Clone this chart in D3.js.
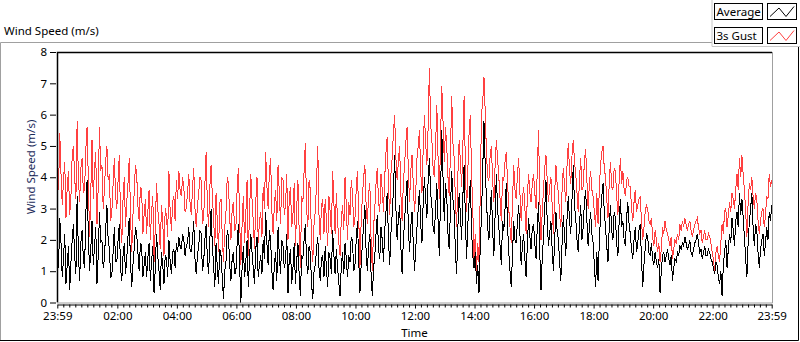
<!DOCTYPE html>
<html>
<head>
<meta charset="utf-8">
<script src="https://cdn.jsdelivr.net/npm/d3@7"></script>
<style>
  body { margin: 0; background: #fff; }
  svg { display: block; font-family: "Noto Sans", "Open Sans", sans-serif; }
</style>
</head>
<body>
<div id="chart"></div>
<script>
// ---- data (2.5 minute steps from 23:59 to 23:59) ----
const seriesNames = ["Average", "3s Gust"];
const seriesColors = ["#000000", "#ff4040"];
const yTicks = [0, 1, 2, 3, 4, 5, 6, 7, 8];
const tickLabels = ["23:59", "02:00", "04:00", "06:00", "08:00", "10:00", "12:00",
                    "14:00", "16:00", "18:00", "20:00", "22:00", "23:59"];
const stepMinutes = 2.5;

// one row per hour (24 samples)
const avgSpeed = [
  1.6, 1.1, 2.7, 1.9, 0.8, 1.4, 2.2, 0.6, 1.2, 1.8, 0.4, 1.3, 2.0, 2.5, 1.5, 0.9, 3.4, 1.6, 0.7, 1.9, 2.3, 1.4, 1.1, 2.8,
  3.9, 2.2, 1.0, 1.7, 2.6, 1.2, 1.8, 2.4, 0.6, 1.5, 2.9, 1.9, 2.0, 1.1, 1.4, 2.3, 3.1, 2.0, 1.7, 0.8, 0.9, 1.6, 2.4, 1.3,
  1.3, 2.0, 2.5, 1.1, 0.7, 1.5, 1.9, 0.9, 1.4, 2.1, 2.7, 1.3, 0.5, 1.2, 1.7, 2.4, 2.2, 1.6, 1.0, 1.9, 1.8, 0.8, 1.2, 1.6,
  0.8, 1.4, 1.9, 0.7, 1.3, 1.8, 0.3, 1.1, 2.2, 1.5, 1.0, 0.4, 1.6, 1.2, 0.6, 1.5, 1.4, 0.8, 2.0, 1.3, 0.9, 1.6, 1.7, 1.1,
  1.9, 1.6, 2.1, 1.8, 1.7, 2.2, 2.0, 1.5, 1.8, 1.9, 2.4, 1.7, 1.6, 2.0, 2.6, 1.4, 0.9, 1.5, 1.8, 2.3, 2.2, 1.0, 1.3, 2.0,
  2.5, 1.4, 0.9, 2.0, 3.0, 1.8, 1.2, 0.5, 1.9, 1.1, 0.6, 1.7, 1.5, 0.8, 0.1, 1.0, 1.3, 2.3, 2.1, 1.2, 0.7, 1.4, 1.6, 0.9,
  1.0, 1.9, 2.5, 1.2, 0.0, 1.1, 1.8, 0.8, 1.3, 2.0, 0.5, 1.4, 2.2, 1.6, 1.1, 0.6, 1.7, 2.1, 0.8, 1.2, 1.5, 0.9, 2.0, 1.4,
  2.9, 1.9, 1.2, 2.3, 2.0, 1.0, 0.4, 1.2, 1.6, 0.7, 2.4, 1.5, 0.9, 2.0, 1.8, 1.1, 1.3, 2.2, 0.3, 1.4, 1.7, 0.6, 1.1, 1.9,
  0.6, 1.3, 1.9, 0.9, 0.2, 1.5, 1.4, 2.0, 2.5, 1.3, 0.9, 1.8, 1.6, 0.6, 0.1, 1.0, 1.2, 1.7, 2.1, 1.1, 0.7, 1.4, 1.5, 0.8,
  1.8, 1.1, 0.5, 1.6, 1.4, 0.9, 2.3, 1.5, 0.9, 1.7, 1.1, 0.6, 0.2, 1.2, 1.6, 0.9, 1.9, 1.4, 0.8, 1.5, 1.3, 2.1, 2.0, 1.0,
  1.2, 2.0, 2.6, 1.4, 0.3, 1.2, 1.9, 2.5, 3.1, 1.6, 1.0, 1.8, 2.2, 0.9, 0.2, 1.1, 1.5, 2.2, 2.8, 1.7, 1.4, 2.4, 2.0, 1.3,
  2.3, 2.9, 3.5, 2.0, 1.2, 2.2, 2.8, 3.6, 4.7, 3.0, 2.0, 2.7, 3.1, 1.8, 0.9, 2.0, 2.6, 3.3, 3.9, 2.5, 1.6, 2.4, 2.9, 1.9,
  1.0, 1.7, 2.4, 3.0, 3.6, 2.5, 1.9, 3.2, 4.0, 3.3, 2.7, 3.9, 4.6, 3.5, 3.1, 2.4, 2.2, 3.0, 3.8, 2.6, 1.5, 3.4, 5.5, 4.0,
  2.6, 3.8, 3.4, 2.2, 1.7, 3.0, 4.2, 3.3, 2.9, 1.6, 0.9, 2.4, 3.5, 2.8, 2.0, 3.4, 4.4, 2.7, 1.4, 2.5, 3.2, 3.9, 2.3, 1.5,
  1.1, 1.6, 0.6, 1.2, 0.3, 1.8, 2.8, 4.2, 5.8, 4.4, 3.3, 2.4, 2.0, 2.9, 3.6, 2.3, 1.5, 2.8, 4.1, 3.0, 2.4, 1.8, 1.2, 2.6,
  2.3, 3.0, 3.8, 2.5, 1.6, 1.0, 0.5, 1.5, 2.6, 2.0, 1.9, 2.6, 3.1, 2.2, 1.2, 1.8, 2.2, 1.4, 0.8, 1.9, 2.7, 2.1, 1.7, 2.4,
  2.5, 1.9, 1.4, 2.4, 3.2, 1.6, 0.4, 1.4, 2.1, 3.0, 3.9, 2.6, 1.8, 2.2, 2.6, 1.7, 1.0, 2.0, 2.9, 2.3, 2.0, 1.3, 0.7, 1.9,
  2.8, 2.1, 1.5, 2.7, 3.4, 2.6, 2.2, 3.3, 4.4, 3.1, 2.7, 2.0, 1.6, 2.5, 3.1, 2.0, 2.4, 3.2, 3.6, 2.6, 1.8, 2.4, 2.9, 2.2,
  1.9, 1.2, 0.5, 1.6, 0.7, 1.9, 2.8, 3.4, 3.8, 2.9, 2.4, 1.8, 1.3, 2.4, 3.1, 2.3, 2.0, 2.9, 2.7, 1.9, 1.5, 2.6, 3.3, 2.4,
  2.6, 2.0, 1.8, 2.7, 3.2, 2.5, 2.2, 1.7, 1.4, 2.0, 2.4, 1.6, 1.9, 2.3, 2.5, 1.4, 0.5, 1.2, 1.7, 2.2, 2.1, 1.6, 1.5, 1.9,
  1.4, 1.2, 1.6, 1.3, 1.1, 1.4, 0.3, 1.0, 1.5, 1.6, 1.3, 1.5, 1.7, 1.4, 1.2, 1.5, 0.7, 1.1, 1.4, 1.3, 1.6, 1.5, 1.8, 1.7,
  1.9, 1.8, 2.1, 1.9, 1.7, 1.8, 2.0, 1.6, 1.5, 1.7, 1.9, 2.0, 2.2, 1.9, 1.6, 1.7, 1.4, 1.6, 1.8, 1.5, 1.5, 1.7, 1.6, 1.4,
  1.3, 1.1, 0.9, 1.3, 1.2, 0.8, 0.6, 1.0, 0.2, 1.2, 1.6, 2.0, 1.1, 1.7, 2.2, 1.9, 2.7, 2.3, 1.8, 2.6, 2.9, 2.4, 3.5, 2.8,
  3.3, 2.7, 2.1, 1.4, 0.8, 1.9, 2.6, 3.0, 3.5, 2.4, 1.8, 2.5, 2.3, 1.6, 1.1, 1.7, 2.0, 2.2, 1.5, 1.9, 2.4, 2.0, 2.9, 2.6,
  3.1
];

const gustSpeed = [
  4.4, 3.6, 5.4, 4.1, 3.1, 3.9, 4.5, 2.7, 3.7, 4.2, 2.8, 3.4, 4.7, 5.0, 4.0, 3.3, 5.8, 4.0, 3.2, 4.3, 4.6, 3.5, 3.6, 4.9,
  5.6, 4.0, 2.1, 3.5, 5.2, 3.3, 4.3, 4.8, 2.5, 3.7, 5.6, 4.2, 4.4, 3.0, 3.6, 4.5, 5.0, 3.9, 4.1, 2.6, 2.9, 3.8, 4.6, 3.4,
  3.0, 3.9, 4.7, 2.6, 1.9, 3.3, 4.0, 2.4, 3.2, 3.8, 4.6, 2.9, 1.6, 2.8, 3.5, 4.4, 4.1, 3.1, 2.6, 3.7, 3.6, 2.2, 2.8, 3.3,
  2.2, 2.9, 3.6, 2.0, 2.9, 3.4, 1.3, 2.4, 3.8, 3.0, 2.5, 1.7, 3.1, 2.6, 1.5, 3.0, 2.8, 2.1, 4.2, 2.9, 2.3, 3.2, 3.4, 2.6,
  3.9, 3.3, 4.2, 3.6, 3.4, 4.0, 3.7, 2.9, 3.0, 3.5, 4.1, 3.2, 2.8, 3.6, 4.3, 3.0, 2.4, 3.1, 3.5, 4.0, 3.9, 2.5, 2.7, 3.8,
  4.8, 3.1, 2.4, 3.7, 4.4, 3.4, 2.7, 1.8, 3.5, 2.6, 1.6, 3.2, 3.3, 2.1, 1.3, 2.4, 2.9, 4.0, 3.8, 2.7, 2.0, 3.0, 3.2, 2.3,
  2.4, 3.6, 4.3, 2.7, 1.2, 2.5, 3.4, 1.9, 2.8, 3.9, 1.5, 2.9, 4.1, 3.3, 2.6, 1.7, 3.2, 4.0, 1.9, 2.6, 2.9, 2.1, 3.7, 3.0,
  4.8, 3.7, 3.0, 4.2, 4.6, 2.9, 2.2, 3.1, 3.6, 2.6, 4.4, 3.5, 2.5, 4.0, 3.9, 2.8, 3.1, 4.1, 2.0, 3.3, 3.7, 2.4, 2.8, 3.8,
  1.8, 3.0, 3.9, 2.3, 1.1, 3.4, 3.2, 4.2, 5.1, 3.0, 2.4, 3.9, 3.6, 1.9, 1.3, 2.5, 2.9, 3.8, 5.0, 2.8, 2.0, 3.1, 3.3, 2.2,
  3.3, 2.6, 1.8, 3.4, 2.9, 2.2, 4.2, 3.2, 2.2, 3.5, 2.6, 1.9, 1.5, 2.7, 3.1, 2.3, 4.0, 3.1, 2.0, 3.2, 2.8, 3.9, 3.5, 2.4,
  2.7, 3.6, 4.2, 2.8, 1.1, 2.6, 3.4, 4.0, 4.4, 3.1, 2.5, 3.5, 3.8, 2.0, 1.0, 2.4, 3.0, 3.8, 4.3, 3.2, 2.9, 4.1, 3.6, 2.9,
  4.0, 4.8, 5.3, 3.7, 2.8, 4.1, 4.6, 5.4, 6.0, 4.6, 3.9, 4.5, 5.0, 3.5, 2.6, 3.8, 4.4, 5.1, 5.6, 4.3, 3.2, 4.2, 4.7, 3.8,
  2.9, 3.5, 4.6, 5.0, 5.5, 4.2, 3.5, 4.9, 6.0, 5.1, 4.4, 5.6, 7.5, 5.7, 5.2, 4.3, 4.0, 5.0, 6.3, 4.6, 3.3, 5.2, 6.9, 5.8,
  4.5, 5.6, 5.0, 4.0, 3.4, 4.8, 6.6, 5.1, 4.6, 3.2, 2.4, 4.1, 5.2, 4.5, 3.7, 5.0, 6.6, 4.4, 2.9, 4.2, 5.4, 6.0, 4.1, 3.0,
  1.4, 2.2, 1.0, 1.9, 1.3, 3.5, 6.0, 6.4, 7.2, 6.1, 4.8, 4.0, 3.9, 4.7, 5.0, 3.9, 3.2, 4.4, 5.2, 4.6, 4.0, 3.3, 2.6, 4.0,
  3.9, 4.5, 4.8, 3.9, 3.0, 2.4, 1.9, 3.2, 4.4, 3.6, 3.3, 4.1, 4.6, 3.5, 2.6, 3.3, 3.7, 3.0, 2.2, 3.4, 4.1, 3.5, 3.2, 3.8,
  4.1, 3.5, 3.0, 4.2, 5.5, 3.4, 2.0, 2.9, 3.6, 4.3, 4.7, 3.9, 3.2, 3.7, 4.0, 3.1, 2.2, 3.5, 4.4, 3.8, 3.5, 2.8, 2.4, 3.6,
  4.3, 3.7, 3.2, 4.4, 5.1, 4.2, 3.8, 4.7, 5.2, 4.5, 4.1, 3.5, 2.9, 3.9, 4.6, 3.6, 3.7, 4.5, 4.9, 3.9, 3.0, 3.8, 4.2, 3.6,
  3.4, 2.9, 2.4, 3.5, 2.5, 3.6, 4.4, 4.8, 5.0, 4.3, 4.0, 3.3, 2.7, 3.8, 4.5, 3.7, 3.6, 4.3, 4.2, 3.4, 2.8, 3.9, 4.6, 3.8,
  4.2, 3.6, 3.4, 3.9, 4.0, 3.7, 3.7, 3.0, 2.6, 3.2, 3.6, 2.9, 3.1, 3.3, 3.4, 2.6, 2.0, 2.4, 2.9, 3.1, 3.0, 2.6, 2.5, 2.7,
  2.1, 1.8, 2.3, 2.0, 1.6, 1.9, 1.3, 1.7, 2.4, 2.2, 2.6, 2.3, 2.2, 2.0, 1.8, 2.1, 1.4, 1.7, 2.0, 1.9, 2.2, 2.0, 2.5, 2.3,
  2.6, 2.4, 2.7, 2.5, 2.3, 2.5, 2.6, 2.3, 2.1, 2.3, 2.5, 2.6, 2.7, 2.4, 2.2, 2.3, 1.9, 2.1, 2.3, 2.0, 2.0, 2.2, 2.1, 1.9,
  1.6, 1.4, 1.0, 1.6, 1.8, 1.5, 1.3, 1.9, 2.5, 2.2, 2.9, 3.0, 2.4, 2.8, 3.2, 2.9, 3.5, 3.3, 3.0, 3.6, 4.1, 3.6, 4.6, 4.0,
  4.7, 4.1, 3.6, 2.9, 2.1, 3.2, 3.8, 3.6, 4.0, 3.4, 3.0, 3.5, 3.3, 2.6, 2.2, 2.6, 2.9, 3.0, 2.4, 2.8, 3.4, 3.3, 4.1, 3.7,
  3.9
];

if (avgSpeed.length !== 577 || gustSpeed.length !== 577) {
  throw new Error("series length " + avgSpeed.length + " / " + gustSpeed.length);
}

// ---- layout ----
const W = 800, H = 342;
const plot = { left: 57, right: 772, top: 52, bottom: 302.5 };

const startTime = new Date(2000, 0, 1, 23, 59);
const endTime = new Date(2000, 0, 2, 23, 59);
const timeAt = i => new Date(startTime.getTime() + i * stepMinutes * 60000);

// major tick times: start, every 2 hours, end
const majorTimes = [startTime];
for (let h = 2; h <= 22; h += 2) majorTimes.push(new Date(2000, 0, 2, h, 0));
majorTimes.push(endTime);

const x = d3.scaleTime()
    .domain([startTime, endTime])
    .range([plot.left + 0.3, plot.right - 0.3]);

const y = d3.scaleLinear()
    .domain([0, 8])
    .range([plot.bottom, plot.top]);

const svg = d3.select("#chart")
  .append("svg")
    .attr("width", W)
    .attr("height", H);

// outer frame of the graph
svg.append("path")
    .attr("d", "M0.5,341 V42.5 H712")
    .attr("fill", "none")
    .attr("stroke", "#a0a0a0");
svg.append("path")
    .attr("d", "M0,340.5 H798.5 V47")
    .attr("fill", "none")
    .attr("stroke", "#000");

// title
svg.append("text")
    .attr("x", 4)
    .attr("y", 35)
    .style("font-size", "11.5px")
    .attr("fill", "#000")
    .text("Wind Speed (m/s)");

// plot background + clip
svg.append("rect")
    .attr("x", plot.left)
    .attr("y", plot.top)
    .attr("width", plot.right - plot.left)
    .attr("height", plot.bottom - plot.top)
    .attr("fill", "#fff");

svg.append("clipPath")
    .attr("id", "clip")
  .append("rect")
    .attr("x", plot.left)
    .attr("y", plot.top)
    .attr("width", plot.right - plot.left)
    .attr("height", plot.bottom - plot.top + 1);

const line = d3.line()
    .x((d, i) => x(timeAt(i)))
    .y(d => y(d));

// gust first, average on top; aliased like the original plot
const dataG = svg.append("g")
    .attr("clip-path", "url(#clip)")
    .attr("shape-rendering", "crispEdges");
dataG.append("path")
    .datum(gustSpeed)
    .attr("d", line)
    .attr("fill", "none")
    .attr("stroke", seriesColors[1])
    .attr("stroke-width", 1);
dataG.append("path")
    .datum(avgSpeed)
    .attr("d", line)
    .attr("fill", "none")
    .attr("stroke", seriesColors[0])
    .attr("stroke-width", 1);

// sunken plot border: dark top/left, grey bottom/right
svg.append("path")
    .attr("d", `M${plot.left + 0.5},${plot.bottom} V${plot.top + 0.5} H${plot.right}`)
    .attr("fill", "none")
    .attr("stroke", "#000")
    .attr("stroke-width", 1.5);
svg.append("path")
    .attr("d", `M${plot.left},${plot.bottom + 0.5} H${plot.right + 0.5} V${plot.top}`)
    .attr("fill", "none")
    .attr("stroke", "#a0a0a0");

// ---- y axis ----
const yAxis = svg.append("g")
    .attr("transform", `translate(${plot.left - 1},0)`)
    .call(d3.axisLeft(y).tickValues(yTicks).tickSize(6).tickPadding(3).tickFormat(d3.format("d")));
yAxis.select(".domain").remove();
yAxis.selectAll("text")
    .style("font-size", "11.5px")
    .style("font-family", "\"Noto Sans\", sans-serif")
    .attr("fill", "#000");

svg.append("text")
    .attr("transform", "translate(35,167) rotate(-90)")
    .attr("text-anchor", "middle")
    .style("font-size", "11.5px")
    .attr("fill", "#1c2b5a")
    .text("Wind Speed (m/s)");

// ---- x axis ----
const axisY = 304.5;
const minorTimes = [];
for (let k = 0; k < majorTimes.length - 1; k++) {
  const t0 = majorTimes[k].getTime(), t1 = majorTimes[k + 1].getTime();
  for (let j = 1; j < 10; j++) minorTimes.push(new Date(t0 + (t1 - t0) * j / 10));
}

const xMinor = svg.append("g")
    .attr("transform", `translate(0,${axisY})`)
    .call(d3.axisBottom(x).tickValues(minorTimes).tickSize(3).tickFormat(""));
xMinor.select(".domain").remove();

const xAxis = svg.append("g")
    .attr("transform", `translate(0,${axisY})`)
    .call(d3.axisBottom(x)
      .tickValues(majorTimes)
      .tickSize(4)
      .tickSizeOuter(0)
      .tickPadding(3)
      .tickFormat((d, i) => tickLabels[i]));
xAxis.select(".domain").attr("stroke", "#000");
xAxis.selectAll("text")
    .style("font-size", "11.5px")
    .style("font-family", "\"Noto Sans\", sans-serif")
    .attr("fill", "#000");

svg.append("text")
    .attr("x", (plot.left + plot.right) / 2)
    .attr("y", 337)
    .attr("text-anchor", "middle")
    .style("font-size", "11.5px")
    .attr("fill", "#000")
    .text("Time");

// ---- legend ----
const legend = svg.append("g");
legend.append("rect")
    .attr("x", 712)
    .attr("y", 0)
    .attr("width", 88)
    .attr("height", 47)
    .attr("fill", "#fff");
legend.append("path")
    .attr("d", "M712,0 V46.5 H800")
    .attr("fill", "none")
    .attr("stroke", "#c8c8c8");

seriesNames.forEach((name, i) => {
  const top = 3.5 + i * 24;
  legend.append("rect")
      .attr("x", 714.5)
      .attr("y", top)
      .attr("width", 48)
      .attr("height", 16)
      .attr("fill", "#fcfcfc")
      .attr("stroke", "#000");
  legend.append("text")
      .attr("x", 716.5)
      .attr("y", top + 12.5)
      .style("font-size", "11.5px")
      .attr("fill", "#000")
      .text(name);
  legend.append("rect")
      .attr("x", 767.5)
      .attr("y", top)
      .attr("width", 29)
      .attr("height", 16)
      .attr("fill", "#fff")
      .attr("stroke", "#000");
  legend.append("polyline")
      .attr("points", [[770, top + 13], [779, top + 4.5], [786, top + 13], [794, top + 3]].join(" "))
      .attr("fill", "none")
      .attr("stroke", seriesColors[i]);
});
</script>
</body>
</html>
